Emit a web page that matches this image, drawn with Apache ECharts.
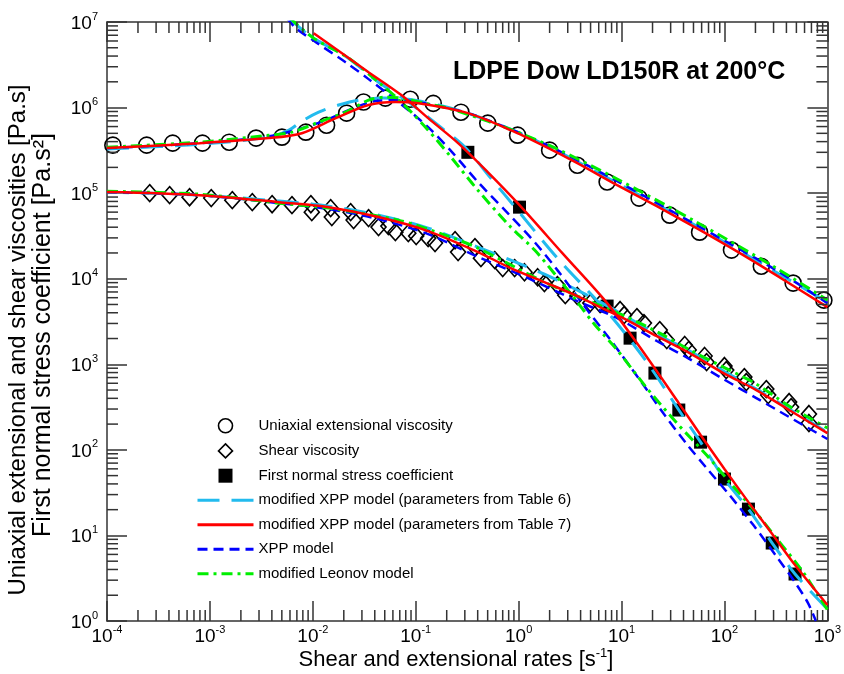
<!DOCTYPE html>
<html><head><meta charset="utf-8">
<script src="https://cdn.jsdelivr.net/npm/echarts@6/dist/echarts.min.js"></script>
<style>html,body{margin:0;padding:0;background:#fff}#chart{width:844px;height:674px}</style>
</head><body><div id="chart"></div>
<script>
const FONT = '"Liberation Sans", Arial, Helvetica, sans-serif';

// ---- axis tick labels (exponents of 10) ----
const xTickExp = [-4, -3, -2, -1, 0, 1, 2, 3];
const yTickExp = [0, 1, 2, 3, 4, 5, 6, 7];
const minorMantissas = [2, 3, 4, 5, 6, 7, 8, 9];

// ---- measured data [rate, value] ----
const extensionalVisc = [[1.14e-4,3.64e5],[2.43e-4,3.64e5],[4.35e-4,3.84e5],[8.47e-4,3.84e5],[1.54e-3,3.94e5],[2.81e-3,4.40e5],[5.01e-3,4.51e5],[8.55e-3,5.16e5],[1.36e-2,6.22e5],[2.13e-2,8.61e5],[3.11e-2,1.16e6],[5.07e-2,1.29e6],[8.85e-2,1.25e6],[0.148,1.12e6],[0.275,8.83e5],[0.501,6.58e5],[0.977,4.76e5],[2.0,3.18e5],[3.72,2.12e5],[7.24,1.35e5],[14.8,8.75e4],[29.4,5.53e4],[57.3,3.50e4],[117,2.16e4],[228,1.40e4],[465,8.89e3],[925,5.62e3]];

const shearViscA = [[2.60e-4,1.00e5],[4.06e-4,9.48e4],[6.34e-4,8.97e4],[1.03e-3,8.75e4],[1.65e-3,8.28e4],[2.58e-3,7.85e4],[4.02e-3,7.43e4],[6.27e-3,7.24e4],[9.57e-3,7.43e4],[1.49e-2,6.68e4],[2.33e-2,6.00e4],[3.48e-2,5.11e4],[5.42e-2,4.12e4],[8.47e-2,3.41e4],[0.132,2.98e4],[0.241,2.82e4],[0.376,2.34e4],[0.586,1.65e4],[0.914,1.33e4],[1.53,1.04e4],[2.38,8.42e3],[3.72,6.27e3],[6.19,5.05e3],[9.68,4.30e3],[14.1,3.56e3],[23.5,2.51e3],[41.1,1.68e3],[64.1,1.25e3],[100,953],[156,708],[255,513],[425,362],[662,262]];
const shearViscB = [[9.77e-3,6.00e4],[1.53e-2,5.25e4],[2.49e-2,4.84e4],[4.35e-2,4.01e4],[6.34e-2,3.50e4],[0.101,3.15e4],[0.154,2.61e4],[0.258,2.05e4],[0.430,1.74e4],[0.700,1.33e4],[1.14,1.19e4],[1.78,8.89e3],[2.84,6.43e3],[4.97,5.19e3],[10.6,3.76e3],[16.5,3.03e3],[27.5,1.92e3],[44.9,1.47e3],[67.0,1.06e3],[104,855],[163,620],[266,437],[444,316],[662,206]];

const normalStressCoef = [[0.321,3.0e5],[1.02,6.86e4],[7.24,4.79e3],[12.1,2.02e3],[21.1,789],[36.0,292],[58.6,123],[100,45.6],[171,20.3],[291,8.15],[485,3.54]];

// ---- model curves ----
const mxpp6Ext = [[1e-4,3.27e5],[7.93e-4,3.73e5],[3.76e-3,4.51e5],[5.86e-3,5.45e5],[7.83e-3,6.93e5],[1.14e-2,8.83e5],[1.78e-2,1.07e6],[2.78e-2,1.22e6],[4.85e-2,1.29e6],[8.47e-2,1.25e6],[0.165,1.07e6],[0.321,8.61e5],[0.977,5.16e5],[2.38,3.10e5],[9.06,1.31e5],[53.6,4.12e4],[318,1.19e4],[1000,5.33e3]];
const mxpp6Shear = [[1e-4,1.03e5],[7.93e-4,9.48e4],[4.69e-3,8.07e4],[1.43e-2,7.05e4],[4.35e-2,5.53e4],[0.132,3.90e4],[0.402,2.34e4],[0.838,1.65e4],[1.78,1.13e4],[3.72,7.36e3],[6.78,5.05e3],[11.3,3.56e3],[22.0,2.25e3],[45.9,1.43e3],[97.7,833],[204,513],[425,300],[1000,161]];
const mxpp6Psi = [[5.86e-3,1.11e7],[9.77e-3,6.64e6],[2.08e-2,3.98e6],[4.35e-2,1.98e6],[8.47e-2,1.16e6],[0.165,6.22e5],[0.301,3.44e5],[0.536,1.50e5],[0.977,6.32e4],[2.38,1.74e4],[7.74,3.76e3],[17.6,1.06e3],[36.0,292],[58.6,123],[100,45.6],[171,20.3],[291,8.15],[485,3.54],[1000,1.38]];

const mxpp7Ext = [[1e-4,3.36e5],[7.93e-4,3.84e5],[3.76e-3,4.40e5],[7.83e-3,5.02e5],[1.67e-2,7.52e5],[3.48e-2,1.07e6],[6.34e-2,1.16e6],[0.106,1.12e6],[0.321,8.61e5],[0.838,5.45e5],[1.78,3.54e5],[3.72,2.24e5],[9.06,1.24e5],[22.0,7.05e4],[53.6,3.90e4],[131,2.10e4],[318,1.10e4],[1000,4.66e3]];
const mxpp7Shear = [[1e-4,1.03e5],[7.93e-4,9.48e4],[4.69e-3,7.85e4],[1.43e-2,6.86e4],[4.35e-2,5.25e4],[0.132,3.60e4],[0.402,2.05e4],[0.838,1.33e4],[1.78,9.12e3],[3.72,6.27e3],[6.78,4.42e3],[11.3,3.28e3],[22.0,2.13e3],[45.9,1.35e3],[97.7,789],[204,500],[425,292],[1000,157]];
const mxpp7Psi = [[1.02e-2,7.40e6],[3.48e-2,2.59e6],[7.24e-2,1.40e6],[0.132,7.52e5],[0.258,3.84e5],[0.501,1.76e5],[1.02,7.24e4],[2.66,1.99e4],[7.24,5.19e3],[14.1,1.77e3],[36.0,352],[58.6,149],[100,59.7],[171,24.5],[291,10.4],[485,4.51],[1000,1.54]];

const xppExt = [[1e-4,3.36e5],[7.93e-4,3.84e5],[3.76e-3,4.63e5],[7.83e-3,5.74e5],[1.34e-2,7.13e5],[2.60e-2,1.01e6],[4.06e-2,1.19e6],[7.24e-2,1.22e6],[0.132,1.10e6],[0.321,8.61e5],[0.977,5.16e5],[2.38,3.18e5],[9.06,1.38e5],[53.6,4.23e4],[318,1.26e4],[1000,5.19e3]];
const xppShear = [[1e-4,1.03e5],[7.93e-4,9.48e4],[4.69e-3,7.64e4],[1.43e-2,6.50e4],[4.35e-2,4.97e4],[0.132,3.32e4],[0.402,1.80e4],[1.22,1.02e4],[3.72,5.47e3],[9.06,3.47e3],[22.0,1.87e3],[45.9,1.15e3],[97.7,671],[204,403],[425,242],[1000,134]];
const xppPsi = [[5.61e-3,1.11e7],[6.85e-3,8.47e6],[1.07e-2,5.81e6],[2.08e-2,3.39e6],[3.48e-2,2.15e6],[6.78e-2,1.16e6],[0.132,5.90e5],[0.230,2.93e5],[0.402,1.35e5],[0.783,5.84e4],[1.43,2.68e4],[2.38,1.26e4],[4.65,4.30e3],[8.09,1.82e3],[15.1,653],[25.8,262],[43.0,117],[67.0,61.3],[112,29.6],[191,13.2],[318,5.75],[497,2.71],[649,1.62],[774,1.0]];

const leonovExt = [[1e-4,3.44e5],[7.93e-4,3.94e5],[3.76e-3,4.76e5],[6.27e-3,5.16e5],[1.14e-2,6.75e5],[2.08e-2,8.83e5],[3.48e-2,1.22e6],[5.07e-2,1.32e6],[7.24e-2,1.29e6],[0.124,1.12e6],[0.206,9.84e5],[0.501,6.93e5],[0.977,5.16e5],[2.38,3.27e5],[9.06,1.46e5],[53.6,4.58e4],[318,1.33e4],[1000,5.62e3]];
const leonovShear = [[1e-4,1.05e5],[7.93e-4,9.73e4],[4.69e-3,7.64e4],[1.43e-2,6.68e4],[6.78e-2,4.84e4],[0.193,3.23e4],[0.402,2.28e4],[1.78,9.12e3],[5.42,5.19e3],[11.3,3.56e3],[23.5,2.31e3],[45.9,1.47e3],[97.7,927],[204,587],[425,325],[1000,180]];
const leonovPsi = [[6.00e-3,1.11e7],[1.02e-2,6.47e6],[2.23e-2,3.78e6],[4.35e-2,1.98e6],[7.24e-2,1.16e6],[0.132,5.45e5],[0.220,2.64e5],[0.402,1.08e5],[0.838,4.01e4],[1.43,2.16e4],[2.38,1.04e4],[3.72,5.33e3],[5.42,2.95e3],[9.06,1.47e3],[17.6,527],[34.4,206],[67.0,86.9],[112,42.1],[204,18.3],[318,9.33],[580,3.74],[1000,1.35]];

const NAMES = {
  ext: 'Uniaxial extensional viscosity',
  shear: 'Shear viscosity',
  psi: 'First normal stress coefficient',
  m6: 'modified XPP model (parameters from Table 6)',
  m7: 'modified XPP model (parameters from Table 7)',
  xpp: 'XPP model',
  leo: 'modified Leonov model'
};

const X_MIN = 1e-4, X_MAX = 1e3, Y_MIN = 1, Y_MAX = 1e7;
const AX = '#333333';

const labelRich = {
  b: { fontSize: 19, fontFamily: FONT, color: '#000', lineHeight: 22, verticalAlign: 'bottom' },
  s: { fontSize: 11, fontFamily: FONT, color: '#000', lineHeight: 12, verticalAlign: 'top' }
};
function fmt(list) {
  return function (v) {
    const e = Math.round(Math.log10(v));
    return list.indexOf(e) >= 0 ? '{b|10}{s|' + e + '}' : '';
  };
}

function logAxis(pos, min, max, showLabel, list) {
  return {
    type: 'log', logBase: 10, min: min, max: max, position: pos, splitNumber: 7,
    axisLine: { show: true, onZero: false, lineStyle: { color: AX, width: 1.5 } },
    axisTick: { show: true, inside: true, length: 20, lineStyle: { color: AX, width: 1.5 } },
    minorTick: { show: false }, splitLine: { show: false }, minorSplitLine: { show: false },
    axisLabel: showLabel ? { show: true, formatter: fmt(list), rich: labelRich, margin: pos === 'bottom' ? 3 : 9, hideOverlap: false, showMinLabel: true, showMaxLabel: true } : { show: false }
  };
}

// minor tick values (2..9 x decade)
const minorX = [], minorY = [];
for (let e = -4; e < 3; e++) minorMantissas.forEach(m => minorX.push([m * Math.pow(10, e), Y_MIN]));
for (let e = 0; e < 7; e++) minorMantissas.forEach(m => minorY.push([X_MIN, m * Math.pow(10, e)]));
const tickStyle = { stroke: AX, lineWidth: 1.5 };
const MINOR = 11;

function markerSeries(name, data, symbol, size, filled) {
  return {
    type: 'scatter', name: name, data: data, symbol: symbol, symbolSize: size, z: 3,
    itemStyle: filled ? { color: '#000', opacity: 1 } : { color: 'rgba(0,0,0,0)', borderColor: '#000', borderWidth: 1.6, opacity: 1 },
    emphasis: { disabled: true }
  };
}
function curve(name, data, color, width, type, z) {
  return {
    type: 'line', name: name, data: data, symbol: 'none', showSymbol: false, smooth: 0.3, clip: true, z: z,
    lineStyle: { color: color, width: width, type: type },
    itemStyle: { color: color },
    emphasis: { disabled: true }
  };
}

const CY = '#22BBEE', RD = '#FF0000', BL = '#0000FF', GR = '#00EE00';
const dashCy = [22, 12], dashBl = [10, 6], dashGr = [11, 5, 3, 5];
const DIAMOND_ICON = 'path://M1,0L2,1L1,2L0,1Z';
const SQUARE_ICON = 'path://M0,0L1,0L1,1L0,1Z';
const noDot = { opacity: 0 };

const option = {
  animation: false,
  backgroundColor: '#fff',
  textStyle: { fontFamily: FONT },
  grid: { left: 107, right: 13, top: 22, bottom: 53, containLabel: false },
  title: {
    text: 'LDPE Dow LD150R at 200°C', left: 453, top: 60, padding: 0,
    textStyle: { fontFamily: FONT, fontSize: 25, fontWeight: 'bold', color: '#000' }
  },
  legend: {
    orient: 'vertical', left: 196, top: 418, padding: 0,
    itemWidth: 56, itemHeight: 14, itemGap: 9.5,
    textStyle: { fontFamily: FONT, fontSize: 15, color: '#000', lineHeight: 14 },
    lineStyle: { width: 3 },
    itemStyle: { borderWidth: 1.6 },
    symbolKeepAspect: true,
    selectedMode: false,
    data: [
      { name: NAMES.ext, icon: 'circle', itemStyle: { opacity: 1 } },
      { name: NAMES.shear, icon: DIAMOND_ICON, itemStyle: { opacity: 1 } },
      { name: NAMES.psi, icon: SQUARE_ICON, itemStyle: { opacity: 1 } },
      { name: NAMES.m6, itemStyle: noDot },
      { name: NAMES.m7, itemStyle: noDot },
      { name: NAMES.xpp, itemStyle: noDot },
      { name: NAMES.leo, itemStyle: noDot }
    ]
  },
  xAxis: [logAxis('bottom', X_MIN, X_MAX, true, xTickExp), logAxis('top', X_MIN, X_MAX, false)],
  yAxis: [logAxis('left', Y_MIN, Y_MAX, true, yTickExp), logAxis('right', Y_MIN, Y_MAX, false)],
  graphic: [
    { type: 'text', x: 18, y: 340, rotation: Math.PI / 2, silent: true,
      style: { text: 'Uniaxial extensional and shear viscosities [Pa.s]', font: '24px ' + FONT, fill: '#000', align: 'center', verticalAlign: 'middle' } },
    { type: 'text', x: 43, y: 335, rotation: Math.PI / 2, silent: true,
      style: { text: 'First normal stress coefficient [Pa.s²]', font: '25px ' + FONT, fill: '#000', align: 'center', verticalAlign: 'middle' } },
    { type: 'text', x: 456, y: 659, silent: true,
      style: { text: '{t|Shear and extensional rates [s}{s|-1}{t|]}', align: 'center', verticalAlign: 'middle',
        rich: { t: { fontSize: 22, fontFamily: FONT, color: '#000', lineHeight: 24, verticalAlign: 'bottom' },
                s: { fontSize: 13, fontFamily: FONT, color: '#000', lineHeight: 14, verticalAlign: 'top' } } } }
  ],
  series: [
    { type: 'custom', coordinateSystem: 'cartesian2d', silent: true, clip: false, z: 5, data: minorX,
      renderItem: function (p, api) {
        const v = api.value(0);
        const b = api.coord([v, Y_MIN]), t = api.coord([v, Y_MAX]);
        return { type: 'group', children: [
          { type: 'line', shape: { x1: b[0], y1: b[1], x2: b[0], y2: b[1] - MINOR }, style: tickStyle },
          { type: 'line', shape: { x1: t[0], y1: t[1], x2: t[0], y2: t[1] + MINOR }, style: tickStyle } ] };
      } },
    { type: 'custom', coordinateSystem: 'cartesian2d', silent: true, clip: false, z: 5, data: minorY,
      renderItem: function (p, api) {
        const v = api.value(1);
        const l = api.coord([X_MIN, v]), r = api.coord([X_MAX, v]);
        return { type: 'group', children: [
          { type: 'line', shape: { x1: l[0], y1: l[1], x2: l[0] + MINOR, y2: l[1] }, style: tickStyle },
          { type: 'line', shape: { x1: r[0], y1: r[1], x2: r[0] - MINOR, y2: r[1] }, style: tickStyle } ] };
      } },
    markerSeries(NAMES.ext, extensionalVisc, 'circle', 16, false),
    markerSeries(NAMES.shear, shearViscA, 'diamond', [15, 17], false),
    markerSeries(NAMES.shear, shearViscB, 'diamond', [15, 17], false),
    markerSeries(NAMES.psi, normalStressCoef, 'rect', 13, true),
    curve(NAMES.m6, mxpp6Ext, CY, 3, dashCy, 4),
    curve(NAMES.m6, mxpp6Shear, CY, 3, dashCy, 4),
    curve(NAMES.m6, mxpp6Psi, CY, 3, dashCy, 4),
    curve(NAMES.xpp, xppExt, BL, 2.5, dashBl, 4),
    curve(NAMES.xpp, xppShear, BL, 2.5, dashBl, 4),
    curve(NAMES.xpp, xppPsi, BL, 2.5, dashBl, 4),
    curve(NAMES.leo, leonovExt, GR, 3, dashGr, 4),
    curve(NAMES.leo, leonovShear, GR, 3, dashGr, 4),
    curve(NAMES.leo, leonovPsi, GR, 3, dashGr, 4),
    curve(NAMES.m7, mxpp7Ext, RD, 2.5, 'solid', 4),
    curve(NAMES.m7, mxpp7Shear, RD, 2.5, 'solid', 4),
    curve(NAMES.m7, mxpp7Psi, RD, 2.5, 'solid', 4)
  ]
};

const chart = echarts.init(document.getElementById('chart'), null, { renderer: 'canvas' });
chart.setOption(option);
</script>
</body></html>
